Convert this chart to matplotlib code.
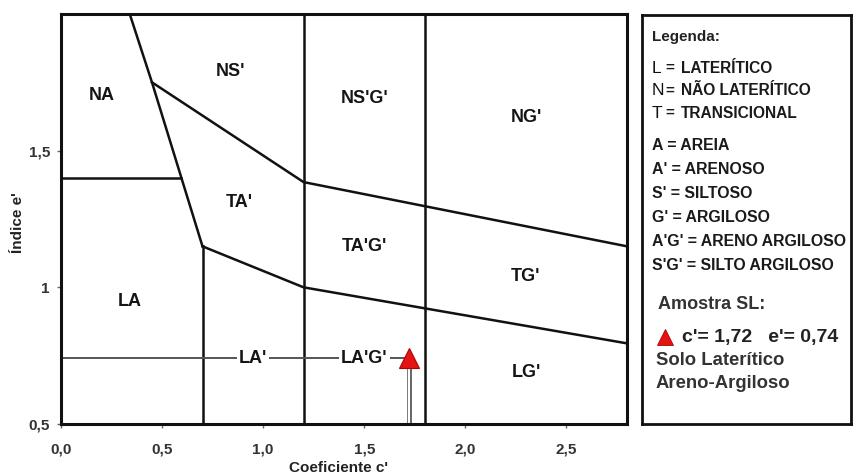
import matplotlib
matplotlib.use("Agg")
import matplotlib.pyplot as plt

plt.rcParams["font.family"] = ["Liberation Sans", "DejaVu Sans"]

# eixos da carta MCT
x_ticks = [0.0, 0.5, 1.0, 1.5, 2.0, 2.5]
x_tick_labels = ["0,0", "0,5", "1,0", "1,5", "2,0", "2,5"]
y_ticks = [0.5, 1.0, 1.5]
y_tick_labels = ["0,5", "1", "1,5"]

# fronteiras entre as classes (c', e')
diag_c = [0.34, 0.45, 0.70]
diag_e = [2.00, 1.75, 1.15]
upper_c = [0.45, 1.20, 2.80]
upper_e = [1.75, 1.385, 1.15]
lower_c = [0.70, 1.20, 2.80]
lower_e = [1.15, 1.00, 0.795]
na_la_c = [0.0, 0.595]
na_la_e = [1.40, 1.40]
la_c = [0.70, 0.70]
la_e = [0.50, 1.15]
full_verticals = [1.20, 1.80]

# classes
classes = ["NA", "NS'", "NS'G'", "NG'", "TA'", "TA'G'", "TG'", "LA", "LG'"]
class_c = [0.20, 0.84, 1.50, 2.30, 0.88, 1.50, 2.30, 0.34, 2.30]
class_e = [1.70, 1.79, 1.69, 1.62, 1.31, 1.15, 1.04, 0.95, 0.69]
line_classes = ["LA'", "LA'G'"]
line_class_c = [0.95, 1.50]

# amostra
sample_c = 1.72
sample_e = 0.74

legend_lines = [
    ("L", "LATERÍTICO"),
    ("N", "NÃO LATERÍTICO"),
    ("T", "TRANSICIONAL"),
]
legend_terms = [
    "A = AREIA",
    "A' = ARENOSO",
    "S' = SILTOSO",
    "G' = ARGILOSO",
    "A'G' = ARENO ARGILOSO",
    "S'G' = SILTO ARGILOSO",
]

fig = plt.figure(figsize=(8.57, 4.76), dpi=100)
ax = fig.add_axes([61 / 857, 52 / 476, 566 / 857, 410 / 476])
ax.set_xlim(0, 2.8)
ax.set_ylim(0.5, 2.0)

lc = "#111111"
lw = 1.8
ax.plot(diag_c, diag_e, color=lc, lw=lw)
ax.plot(upper_c, upper_e, color=lc, lw=lw)
ax.plot(lower_c, lower_e, color=lc, lw=lw)
ax.plot(na_la_c, na_la_e, color=lc, lw=lw)
ax.plot(la_c, la_e, color=lc, lw=lw)
for c in full_verticals:
    ax.axvline(c, color=lc, lw=lw)

for name, c, e in zip(classes, class_c, class_e):
    ax.text(c, e, name, ha="center", va="center", fontsize=13,
            fontweight="bold", color="#151515")

# linha horizontal e seta da amostra
ax.plot([0, sample_c], [sample_e, sample_e], color="#555555", lw=1.4, zorder=2)
for name, c in zip(line_classes, line_class_c):
    ax.text(c, sample_e, name, ha="center", va="center", fontsize=13,
            fontweight="bold", color="#151515", zorder=3,
            bbox=dict(facecolor="white", edgecolor="none", pad=1.5))
ax.plot([sample_c, sample_c], [0.5, sample_e - 0.03], color="#555555",
        lw=3.4, solid_capstyle="butt", zorder=2)
ax.plot([sample_c, sample_c], [0.5, sample_e - 0.03], color="white",
        lw=1.6, solid_capstyle="butt", zorder=2)
ax.plot([sample_c], [sample_e], marker="^", ms=15, color="#e31414",
        markeredgecolor="#b00000", markeredgewidth=0.8, zorder=4)

ax.set_xticks(x_ticks)
ax.set_xticklabels(x_tick_labels)
ax.set_yticks(y_ticks)
ax.set_yticklabels(y_tick_labels)
ax.tick_params(direction="out", length=3, width=1, color="#666666",
               labelsize=11, labelcolor="#333333")
ax.tick_params(axis="x", pad=10)
ax.tick_params(axis="y", pad=5)
for lbl in ax.get_xticklabels() + ax.get_yticklabels():
    lbl.set_fontweight("bold")
for sp in ax.spines.values():
    sp.set_linewidth(2.2)
    sp.set_color("#111111")

ax.set_xlabel("Coeficiente c'", fontsize=11, fontweight="bold",
              color="#222222", va="center")
ax.xaxis.set_label_coords(0.49, -0.107)
ax.set_ylabel("Índice e'", fontsize=11, fontweight="bold", color="#222222")
ax.yaxis.set_label_coords(-0.064, 0.49)

# quadro da legenda
lg = fig.add_axes([642 / 857, 52 / 476, 209 / 857, 409 / 476])
lg.set_xlim(642, 851)
lg.set_ylim(424, 15)
lg.set_xticks([])
lg.set_yticks([])
for sp in lg.spines.values():
    sp.set_linewidth(2.0)
    sp.set_color("#111111")

lg.text(652, 37, "Legenda:", fontsize=11, fontweight="bold",
        color="#222222", va="center")
for i, (letter, desc) in enumerate(legend_lines):
    y = 68 + i * 22.5
    lg.text(652, y, letter, fontsize=12.5, color="#111111", va="center")
    lg.text(665, y, "=", fontsize=11, fontweight="bold",
            color="#1a1a1a", va="center")
    lg.text(681, y, desc, fontsize=11.2, fontweight="bold",
            color="#1a1a1a", va="center")
for i, term in enumerate(legend_terms):
    lg.text(652, 145 + i * 24, term, fontsize=11.4, fontweight="bold",
            color="#1a1a1a", va="center")

lg.text(658, 304, "Amostra SL:", fontsize=13, fontweight="bold",
        color="#333333", va="center")
lg.plot([665], [337], marker="^", ms=12, color="#e31414",
        markeredgecolor="#b00000", markeredgewidth=0.6)
lg.text(682, 337, "c'= 1,72   e'= 0,74", fontsize=14, fontweight="bold",
        color="#222222", va="center")
lg.text(656, 360, "Solo Laterítico", fontsize=13.3, fontweight="bold",
        color="#333333", va="center")
lg.text(656, 383, "Areno-Argiloso", fontsize=13.3, fontweight="bold",
        color="#333333", va="center")

fig.savefig("out.png", dpi=100)
